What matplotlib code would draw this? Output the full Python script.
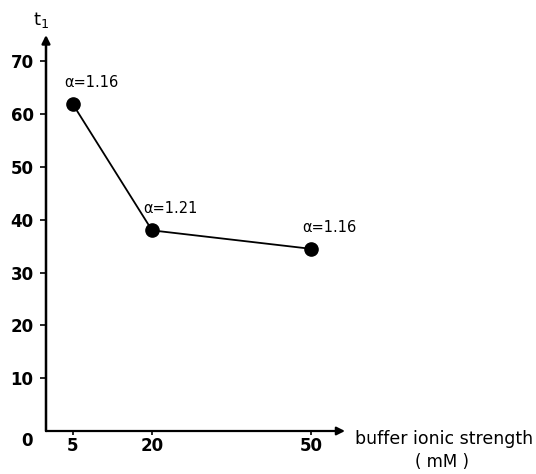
import matplotlib.pyplot as plt

# buffer ionic strength (mM) vs t1
ionic = [5, 20, 50]
t1 = [62, 38, 34.5]
alpha_labels = ['α=1.16', 'α=1.21', 'α=1.16']
yticks = [10, 20, 30, 40, 50, 60, 70]
xticks = [5, 20, 50]

fig = plt.figure(figsize=(5.36, 4.74), dpi=100)
W, H = 536, 474
ax = fig.add_axes([46 / W, 1 - 431 / H, (345 - 46) / W, (431 - 35) / H])
ax.set_xlim(0, 56.4)
ax.set_ylim(0, 75)

for s in ['top', 'right', 'left', 'bottom']:
    ax.spines[s].set_visible(False)

# axes with arrows
ax.annotate('', xy=(56.4, 0), xytext=(0, 0), xycoords='data',
            arrowprops=dict(arrowstyle='-|>', color='black', lw=1.6,
                            mutation_scale=12, shrinkA=0, shrinkB=0))
ax.annotate('', xy=(0, 75), xytext=(0, 0), xycoords='data',
            arrowprops=dict(arrowstyle='-|>', color='black', lw=1.8,
                            mutation_scale=12, shrinkA=0, shrinkB=0))

ax.plot(ionic, t1, color='black', lw=1.3, marker='o', markersize=9.5, clip_on=False)

for x, y, lab in zip(ionic, t1, alpha_labels):
    ax.annotate(lab, (x, y), xytext=(-6, 10), textcoords='offset points',
                fontsize=10.5, ha='left', va='bottom')

ax.set_xticks(xticks)
ax.set_xticklabels([str(v) for v in xticks], fontsize=12, fontweight='bold')
ax.set_yticks(yticks)
ax.set_yticklabels([str(v) for v in yticks], fontsize=12, fontweight='bold')
ax.tick_params(axis='both', direction='out', length=4, width=1.2, pad=5)
ax.tick_params(axis='x', length=3, pad=1)

# origin label and axis titles
fig.text(27 / W, 1 - 441 / H, '0', fontsize=12, fontweight='bold', ha='center', va='center')
fig.text(41 / W, 1 - 20 / H, 't$_1$', fontsize=13, ha='center', va='center')
fig.text(355 / W, 1 - 439 / H, 'buffer ionic strength', fontsize=12.5, ha='left', va='center')
fig.text(442 / W, 1 - 462 / H, '( mM )', fontsize=12, ha='center', va='center')

fig.savefig('out.png', dpi=100)
